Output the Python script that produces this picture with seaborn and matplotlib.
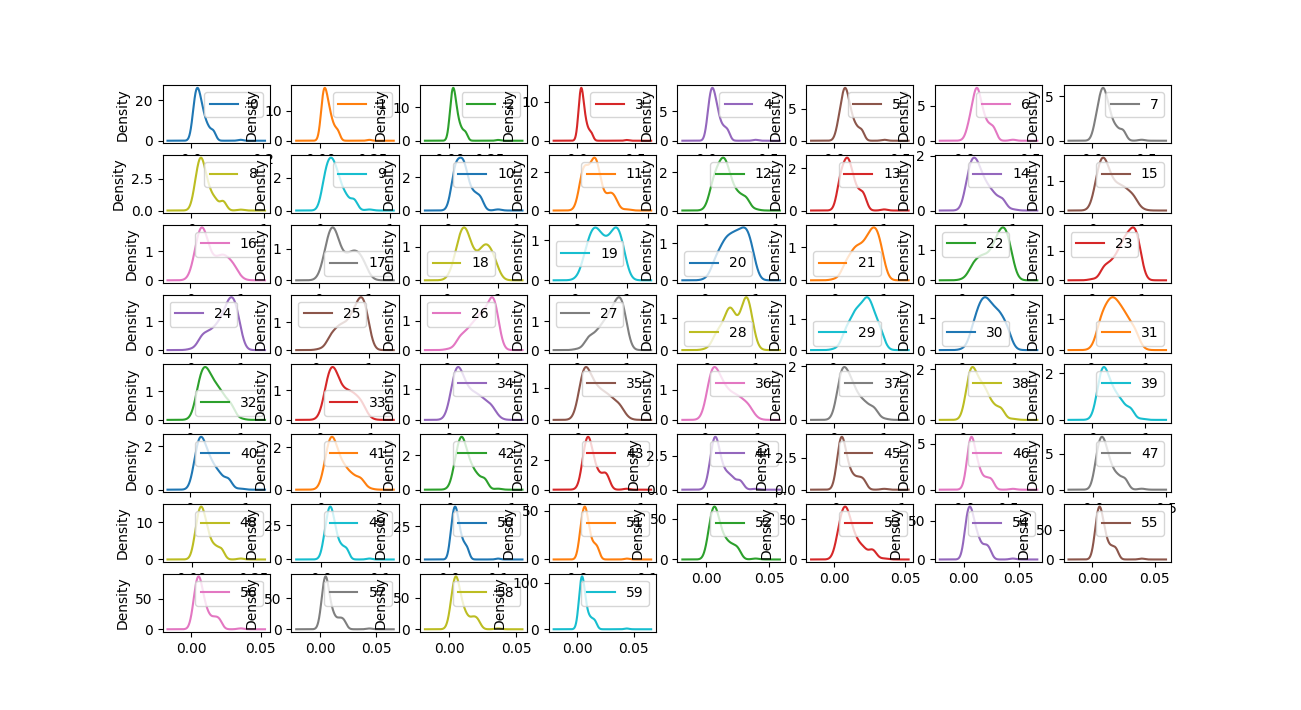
import numpy as np
import pandas as pd
import matplotlib
matplotlib.use("Agg")
import matplotlib.pyplot as plt
import seaborn as sns

# sonar-style bands: each list is min, 12 quantile points, max
band_00 = [.0015, .0060, .0095, .0122, .0148, .0175, .0202, .0233, .0270, .0315, .0375, .0470, .0610, .1371]
band_01 = [.0006, .0058, .0105, .0142, .0175, .0212, .0254, .0305, .0360, .0425, .0505, .0640, .0830, .2339]
band_02 = [.0015, .0085, .0140, .0182, .0220, .0258, .0296, .0342, .0398, .0475, .0585, .0760, .1020, .3059]
band_03 = [.0058, .0135, .0205, .0252, .0290, .0328, .0366, .0413, .0478, .0566, .0685, .0880, .1190, .4264]
band_04 = [.0067, .0190, .0290, .0370, .0450, .0540, .0610, .0690, .0800, .0930, .1100, .1400, .1750, .4010]
band_05 = [.0102, .0330, .0520, .0640, .0730, .0820, .0890, .0970, .1080, .1230, .1400, .1700, .2100, .3823]
band_06 = [.0033, .0380, .0620, .0760, .0870, .0970, .1040, .1130, .1250, .1420, .1620, .1950, .2300, .3729]
band_07 = [.0055, .0330, .0560, .0730, .0860, .0980, .1080, .1190, .1350, .1560, .1800, .2250, .2850, .4590]
band_08 = [.0075, .0500, .0800, .1000, .1170, .1330, .1480, .1650, .1880, .2200, .2600, .3300, .4400, .6828]
band_09 = [.0113, .0500, .0850, .1100, .1350, .1600, .1800, .2050, .2350, .2650, .3100, .3800, .4900, .7106]
band_10 = [.0289, .0750, .1050, .1300, .1500, .1800, .2100, .2300, .2500, .2800, .3300, .4000, .4800, .7342]
band_11 = [.0236, .0700, .0950, .1150, .1500, .2000, .2350, .2550, .2750, .3000, .3450, .4500, .5300, .7060]
band_12 = [.0184, .0850, .1300, .1650, .2000, .2350, .2550, .2800, .3100, .3450, .4000, .4800, .5800, .7131]
band_13 = [.0273, .0900, .1350, .1700, .2100, .2450, .2700, .2950, .3300, .3750, .4300, .5200, .6000, .9970]
band_14 = [.0031, .0600, .1100, .1500, .1850, .2250, .2650, .3050, .3600, .4300, .5100, .6200, .7800, 1.000]
band_15 = [.0162, .0900, .1400, .1800, .2150, .2550, .2950, .3500, .4300, .5200, .6100, .7100, .8400, .9988]
band_16 = [.0349, .1100, .1650, .2000, .2300, .2650, .3000, .3600, .4700, .5800, .6600, .7500, .8700, 1.000]
band_17 = [.0375, .1300, .1900, .2350, .2750, .3100, .3500, .4200, .5300, .6300, .7100, .7900, .8900, 1.000]
band_18 = [.0494, .1700, .2500, .2950, .3350, .3750, .4200, .5000, .6200, .7100, .7700, .8400, .9300, 1.000]
band_19 = [.0656, .2000, .2900, .3500, .4000, .4600, .5300, .6100, .6900, .7600, .8100, .8600, .9300, 1.000]
band_20 = [.0512, .2100, .3200, .4000, .4600, .5300, .5900, .6500, .7100, .7700, .8200, .8700, .9400, 1.000]
band_21 = [.0219, .2200, .3400, .4200, .4900, .5700, .6400, .7000, .7500, .8000, .8400, .8900, .9500, 1.000]
band_22 = [.0563, .2200, .3400, .4300, .5300, .6200, .6800, .7300, .7800, .8200, .8600, .9000, .9600, 1.000]
band_23 = [.0239, .2500, .3900, .5000, .5800, .6400, .6900, .7400, .7900, .8400, .8700, .9100, .9600, 1.000]
band_24 = [.0240, .2200, .3500, .4700, .5600, .6400, .7000, .7500, .7900, .8300, .8700, .9100, .9600, 1.000]
band_25 = [.0921, .2800, .4000, .4800, .5700, .6500, .7100, .7600, .8100, .8500, .8800, .9200, .9600, 1.000]
band_26 = [.0481, .2600, .4000, .5000, .5800, .6500, .7100, .7700, .8300, .8800, .9100, .9400, .9700, 1.000]
band_27 = [.0284, .2400, .3900, .5000, .5800, .6500, .7100, .7600, .8100, .8500, .8900, .9200, .9700, 1.000]
band_28 = [.0144, .2000, .3200, .4200, .4700, .5100, .5700, .6800, .7600, .8000, .8300, .8600, .9200, 1.000]
band_29 = [.0613, .2400, .3400, .4200, .4700, .5300, .5900, .6400, .6800, .7200, .7700, .8400, .9300, 1.000]
band_30 = [.0482, .2000, .2900, .3400, .3900, .4400, .4800, .5300, .5900, .6500, .7100, .7800, .8700, .9657]
band_31 = [.0404, .1500, .2200, .2800, .3300, .3800, .4200, .4700, .5200, .5800, .6400, .7200, .8200, .9306]
band_32 = [.0477, .1500, .2100, .2500, .2900, .3300, .3700, .4200, .4800, .5400, .6100, .7000, .8200, 1.000]
band_33 = [.0212, .1200, .1700, .2100, .2500, .2900, .3300, .3900, .4700, .5500, .6300, .7200, .8300, .9647]
band_34 = [.0223, .0900, .1300, .1650, .2000, .2400, .2900, .3600, .4400, .5300, .6200, .7300, .8700, 1.000]
band_35 = [.0080, .0700, .1100, .1400, .1700, .2200, .2900, .3500, .4300, .5200, .6100, .7200, .8600, 1.000]
band_36 = [.0351, .0800, .1150, .1450, .1800, .2300, .2800, .3400, .4100, .5000, .5900, .6900, .8200, .9497]
band_37 = [.0383, .1000, .1400, .1700, .2000, .2400, .2900, .3300, .3800, .4500, .5400, .6500, .8000, 1.000]
band_38 = [.0371, .0950, .1350, .1650, .1950, .2300, .2700, .3200, .3800, .4300, .4900, .6000, .7500, .9857]
band_39 = [.0117, .1000, .1450, .1800, .2050, .2350, .2700, .3100, .3600, .4200, .4900, .5800, .7200, .9297]
band_40 = [.0360, .0900, .1300, .1600, .1850, .2150, .2450, .2800, .3300, .3800, .4500, .5400, .6800, .8995]
band_41 = [.0056, .0850, .1250, .1550, .1850, .2100, .2350, .2700, .3200, .3800, .4500, .5500, .6800, .8246]
band_42 = [.0000, .0800, .1200, .1500, .1750, .2000, .2150, .2400, .2750, .3200, .3700, .4500, .5600, .7733]
band_43 = [.0000, .0700, .1000, .1250, .1450, .1650, .1800, .2000, .2300, .2700, .3300, .4100, .4700, .7762]
band_44 = [.0000, .0550, .0800, .0980, .1150, .1300, .1440, .1620, .1920, .2400, .3000, .3700, .4800, .7034]
band_45 = [.0000, .0350, .0550, .0700, .0850, .1000, .1150, .1350, .1600, .2000, .2600, .3400, .4200, .7292]
band_46 = [.0000, .0350, .0550, .0650, .0750, .0850, .0980, .1100, .1300, .1550, .1900, .2500, .3100, .5522]
band_47 = [.0000, .0220, .0350, .0450, .0550, .0650, .0740, .0850, .0980, .1150, .1400, .1750, .2200, .3339]
band_48 = [.0000, .0140, .0220, .0280, .0330, .0380, .0425, .0480, .0545, .0630, .0760, .0960, .1200, .1981]
band_49 = [.0000, .0060, .0095, .0120, .0140, .0160, .0175, .0192, .0215, .0245, .0285, .0355, .0440, .0825]
band_50 = [.0000, .0035, .0060, .0080, .0100, .0120, .0135, .0150, .0175, .0205, .0240, .0300, .0370, .1004]
band_51 = [.0008, .0035, .0058, .0075, .0090, .0102, .0113, .0125, .0142, .0162, .0192, .0240, .0290, .0709]
band_52 = [.0005, .0022, .0038, .0050, .0060, .0070, .0080, .0092, .0110, .0135, .0165, .0205, .0250, .0390]
band_53 = [.0010, .0028, .0045, .0057, .0068, .0080, .0089, .0099, .0113, .0136, .0162, .0205, .0270, .0352]
band_54 = [.0006, .0020, .0030, .0040, .0050, .0062, .0072, .0082, .0098, .0120, .0145, .0190, .0230, .0447]
band_55 = [.0004, .0022, .0035, .0044, .0051, .0058, .0065, .0073, .0084, .0099, .0120, .0155, .0190, .0394]
band_56 = [.0003, .0018, .0030, .0038, .0046, .0053, .0060, .0068, .0080, .0097, .0122, .0162, .0200, .0355]
band_57 = [.0003, .0017, .0028, .0036, .0043, .0049, .0055, .0063, .0075, .0095, .0122, .0168, .0210, .0440]
band_58 = [.0001, .0018, .0030, .0038, .0045, .0052, .0059, .0068, .0082, .0100, .0128, .0172, .0210, .0364]
band_59 = [.0006, .0018, .0027, .0032, .0037, .0041, .0046, .0052, .0060, .0072, .0090, .0120, .0155, .0439]

# min/max points count much less than the quantile points
point_weight = [0.1] + [1.0] * 12 + [0.1]

bands = [band_00, band_01, band_02, band_03, band_04, band_05, band_06, band_07, band_08, band_09,
         band_10, band_11, band_12, band_13, band_14, band_15, band_16, band_17, band_18, band_19,
         band_20, band_21, band_22, band_23, band_24, band_25, band_26, band_27, band_28, band_29,
         band_30, band_31, band_32, band_33, band_34, band_35, band_36, band_37, band_38, band_39,
         band_40, band_41, band_42, band_43, band_44, band_45, band_46, band_47, band_48, band_49,
         band_50, band_51, band_52, band_53, band_54, band_55, band_56, band_57, band_58, band_59]
df = pd.DataFrame({str(i): b for i, b in enumerate(bands)})

BW = 0.38
colors = sns.color_palette("tab10")

fig, axes = plt.subplots(8, 8, figsize=(13.01, 7.1))
for i, col in enumerate(df.columns):
    ax = axes.flat[i]
    vals = df[col].to_numpy()
    rng = vals.max() - vals.min()
    # seaborn sizes the support with the unweighted spread;
    # pick cut so the curve runs half the sample range past min and max
    bw = BW * np.std(vals, ddof=1)
    sns.kdeplot(x=vals, weights=point_weight, bw_method=BW, cut=0.5 * rng / bw,
                gridsize=1000, color=colors[i % 10], label=col, ax=ax)
    ax.lines[-1].sticky_edges.y.clear()
    ax.relim()
    ax.autoscale_view()
    ax.set_xlabel("")
    ax.set_ylabel("Density")
    ax.legend()
for ax in axes.flat[len(bands):]:
    ax.set_visible(False)

fig.savefig("out.png", dpi=100)
